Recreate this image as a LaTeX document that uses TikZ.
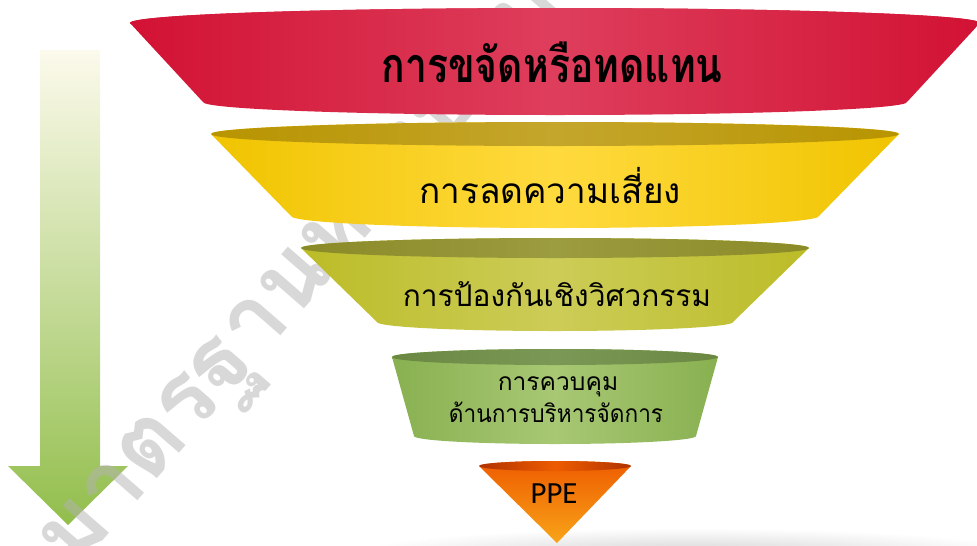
\documentclass[tikz,border=0pt]{standalone}
\usepackage{fontspec}
\setmainfont{Carlito}
\newfontfamily\thaifont[Script=Thai]{Loma}
\usetikzlibrary{positioning}

\definecolor{RedSide}{RGB}{210,18,52}
\definecolor{RedMid}{RGB}{222,62,92}
\definecolor{YellowSide}{RGB}{240,196,0}
\definecolor{YellowMid}{RGB}{255,218,62}
\definecolor{YellowRim}{RGB}{184,148,0}
\definecolor{YellowRimMid}{RGB}{196,166,44}
\definecolor{OliveSide}{RGB}{188,188,40}
\definecolor{OliveMid}{RGB}{204,204,88}
\definecolor{OliveRim}{RGB}{138,138,40}
\definecolor{OliveRimMid}{RGB}{156,156,64}
\definecolor{GreenSide}{RGB}{136,176,80}
\definecolor{GreenMid}{RGB}{168,200,116}
\definecolor{GreenRim}{RGB}{106,136,66}
\definecolor{GreenRimMid}{RGB}{124,152,86}
\definecolor{OrangeTop}{RGB}{238,92,0}
\definecolor{OrangeBot}{RGB}{248,164,24}
\definecolor{OrangeRim}{RGB}{176,50,0}
\definecolor{ArrowTop}{RGB}{252,250,236}
\definecolor{ArrowMid}{RGB}{214,224,164}
\definecolor{ArrowGreen}{RGB}{146,190,76}
\definecolor{MarkGray}{RGB}{178,178,178}

\tikzset{
	bandlabel/.style={anchor=base, inner sep=0pt, text=black},
	watermark/.style={anchor=base west, inner sep=0pt, text=MarkGray, opacity=0.5}
}

\begin{document}
\begin{tikzpicture}[x=0.02cm, y=0.02cm]
	\useasboundingbox (0,0) rectangle (977,-545);
	\clip (0,0) rectangle (977,-545);

	% arrow on the left
	\shade[top color=ArrowTop, middle color=ArrowMid, bottom color=ArrowGreen]
		(40,-50) -- (100,-50) -- (100,-466) -- (128,-466) -- (68,-525)
		-- (8,-466) -- (40,-466) -- cycle;

	% faint stamp behind the funnel
	\node[watermark, rotate=49, font=\thaifont\bfseries\fontsize{54}{54}\selectfont] (stamp)
		at (74,-574) {มาตรฐานห้องปฏิบัติการ};

	% floor shadow
	\shade[inner color=black!16, outer color=white] (690,-552) ellipse[x radius=330, y radius=24];

	% funnel bands: top y / top half width / top depth / bottom y / bottom half width / bottom depth
	\foreach \yt/\at/\bt/\yb/\ab/\bb/\side/\mid/\rim/\rimmid in {
		23/425/15/102/352/13/RedSide/RedMid/RedSide/RedMid,
		134/344/12/216/264/12/YellowSide/YellowMid/YellowRim/YellowRimMid,
		248/254/10/322/178/9/OliveSide/OliveMid/OliveRim/OliveRimMid,
		357/163/8/436/141/8/GreenSide/GreenMid/GreenRim/GreenRimMid}{
		\shade[left color=\side, right color=\side, middle color=\mid]
			(555-\at,-\yt) -- (555-\ab,-\yb)
			arc[start angle=180, end angle=360, x radius=\ab, y radius=\bb]
			-- (555+\at,-\yt)
			arc[start angle=0, end angle=180, x radius=\at, y radius=\bt] -- cycle;
		\shade[left color=\rim, right color=\rim, middle color=\rimmid]
			(555,-\yt) ellipse[x radius=\at, y radius=\bt];
	}

	% the small cone at the tip
	\shade[top color=OrangeTop, bottom color=OrangeBot]
		(479,-466) -- (557,-543) -- (631,-466)
		arc[start angle=0, end angle=180, x radius=76, y radius=5] -- cycle;
	\shade[left color=OrangeRim, right color=OrangeRim, middle color=OrangeTop]
		(555,-466) ellipse[x radius=76, y radius=5];

	% labels
	\node[bandlabel, font=\thaifont\bfseries\fontsize{27.5}{27.5}\selectfont] (remove) at (552,-82)
		{\scalebox{0.81}[1]{การขจัดหรือทดแทน}};
	\node[bandlabel, font=\thaifont\fontsize{20}{20}\selectfont] (reduce) at (550,-203)
		{การลดความเสี่ยง};
	\node[bandlabel, font=\thaifont\fontsize{17}{17}\selectfont] (engineer) at (557,-306)
		{การป้องกันเชิงวิศวกรรม};
	\node[bandlabel, font=\thaifont\fontsize{14}{14}\selectfont] (admin1) at (558,-390)
		{การควบคุม};
	\node[bandlabel, font=\thaifont\fontsize{14}{14}\selectfont] (admin2) at (556,-422)
		{\scalebox{0.92}[1]{ด้านการบริหารจัดการ}};
	\node[bandlabel, font=\fontsize{17.5}{17.5}\selectfont] (ppe) at (554,-503) {PPE};
\end{tikzpicture}
\end{document}
